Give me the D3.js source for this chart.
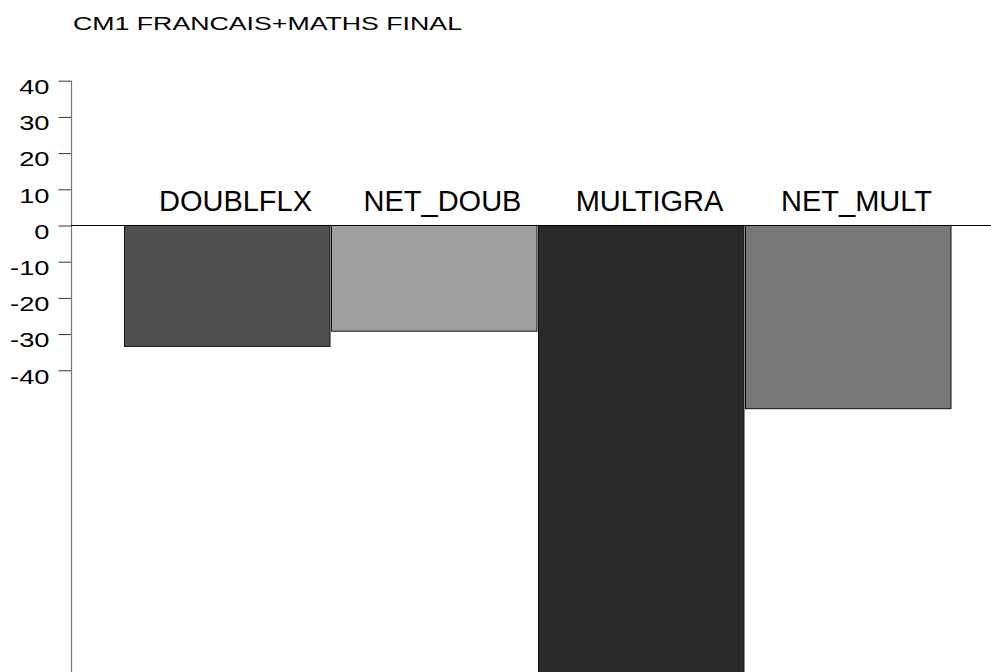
<!DOCTYPE html>
<html><head><meta charset="utf-8">
<script src="https://cdn.jsdelivr.net/npm/d3@7"></script>
<style>html,body{margin:0;padding:0;background:#fff;} svg{display:block;}</style>
</head><body>
<script>
const title = "CM1 FRANCAIS+MATHS FINAL";
const categories = ["DOUBLFLX", "NET_DOUB", "MULTIGRA", "NET_MULT"];
const values = [-33.4, -29.2, -140, -50.6];
const colors = ["#505050", "#a0a0a0", "#282828", "#787878"];
const tickValues = [40, 30, 20, 10, 0, -10, -20, -30, -40];

const W = 991, H = 672;
const svg = d3.select("body").append("svg").attr("width", W).attr("height", H);
const font = "Arial, 'Liberation Sans', Helvetica, sans-serif";

const y = d3.scaleLinear().domain([-120, 40]).range([659.9, 80.7]);
const x = d3.scaleBand().domain(categories).range([124, 952]).padding(0);

// title
const t = svg.append("text").attr("x", 73).attr("y", 29.5)
  .attr("font-family", font).attr("font-size", 18.5).attr("fill", "#000").text(title);
t.attr("textLength", 389).attr("lengthAdjust", "spacingAndGlyphs");

// bars
svg.selectAll("rect.bar").data(categories).enter().append("rect")
  .attr("class", "bar")
  .attr("x", d => x(d) + 0.5)
  .attr("width", x.bandwidth() - 1.5)
  .attr("y", (d, i) => Math.min(y(0), y(values[i])))
  .attr("height", (d, i) => Math.abs(y(values[i]) - y(0)))
  .attr("fill", (d, i) => colors[i])
  .attr("stroke", "#111").attr("stroke-width", 1);

// category labels
svg.selectAll("text.cat").data(categories).enter().append("text")
  .attr("class", "cat")
  .attr("x", d => x(d) + x.bandwidth() / 2 + 8)
  .attr("y", 211)
  .attr("text-anchor", "middle")
  .attr("font-family", font).attr("font-size", 29).attr("fill", "#000")
  .text(d => d);

// y axis
const axis = d3.axisLeft(y).tickValues(tickValues).tickSize(13).tickPadding(9).tickFormat(d => String(d));
const g = svg.append("g").attr("transform", "translate(71.5,0)").call(axis);
g.select(".domain").remove();
g.selectAll(".tick line").attr("stroke", "#333");
g.selectAll(".tick text").attr("font-family", font).attr("font-size", 21).attr("fill", "#000")
  .attr("dy", "0.85em").attr("y", -5)
  .each(function(){ const w = this.getComputedTextLength(); d3.select(this).attr("textLength", w * 1.3).attr("lengthAdjust", "spacingAndGlyphs"); });
svg.append("line").attr("x1", 71.5).attr("x2", 71.5).attr("y1", y(40)).attr("y2", H)
  .attr("stroke", "#777").attr("stroke-width", 1.2);

// zero line
svg.append("line").attr("x1", 71).attr("x2", W).attr("y1", y(0)).attr("y2", y(0))
  .attr("stroke", "#000").attr("stroke-width", 1);
</script>
</body></html>
